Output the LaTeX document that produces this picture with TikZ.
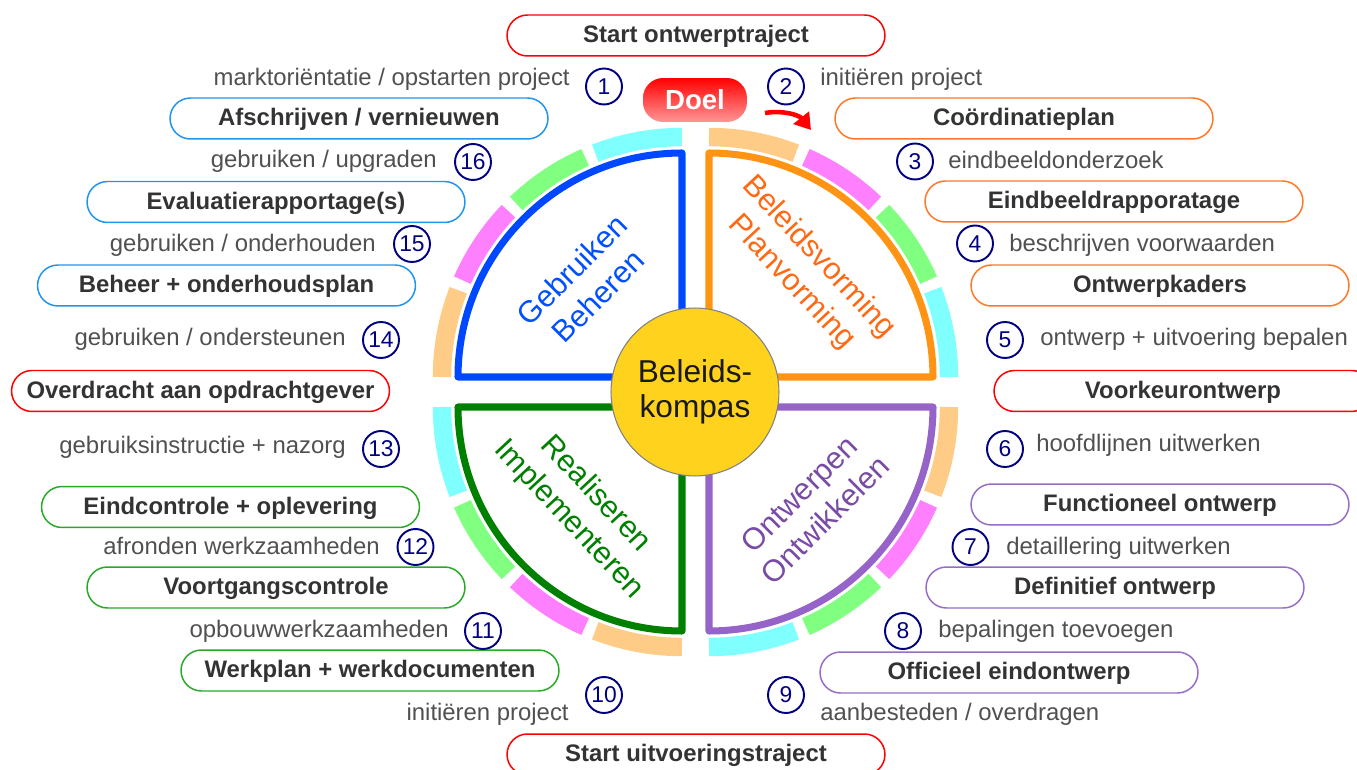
\documentclass[tikz,border=0pt]{standalone}
\usepackage{fontspec}
\setmainfont{Liberation Sans}
\usetikzlibrary{arrows.meta,calc}
\definecolor{labgray}{RGB}{80,80,80}
\definecolor{boxtext}{RGB}{51,51,51}
\definecolor{navy}{RGB}{0,0,128}
\definecolor{bxblue}{RGB}{30,150,240}
\definecolor{bxorange}{RGB}{255,120,40}
\definecolor{bxgreen}{RGB}{40,170,40}
\definecolor{bxpurple}{RGB}{150,110,200}
\definecolor{bxred}{RGB}{255,0,0}
\definecolor{qblue}{RGB}{0,72,255}
\definecolor{qorange}{RGB}{255,148,20}
\definecolor{qgreen}{RGB}{0,128,0}
\definecolor{qpurple}{RGB}{150,100,200}
\definecolor{tblue}{RGB}{0,80,255}
\definecolor{torange}{RGB}{255,105,20}
\definecolor{tgreen}{RGB}{0,128,0}
\definecolor{tpurple}{RGB}{120,75,165}
\definecolor{bandtan}{RGB}{255,204,136}
\definecolor{bandmag}{RGB}{255,128,255}
\definecolor{bandgrn}{RGB}{128,255,128}
\definecolor{bandcyn}{RGB}{128,255,255}
\definecolor{kompas}{RGB}{255,210,30}
\newcommand\labfnt{\fontsize{13.6}{16}\selectfont}
\newcommand\boxfnt{\fontsize{13.6}{16}\selectfont\bfseries}
\newcommand\numfnt{\fontsize{13}{15}\selectfont}
\newcommand\quadfnt{\fontsize{17.4}{21}\selectfont}
\begin{document}
\begin{tikzpicture}[x=0.02cm,y=-0.02cm,
  lab/.style={font=\labfnt, text=labgray, inner sep=0pt},
  labl/.style={lab, anchor=base east},
  labr/.style={lab, anchor=base west},
  num/.style={circle, draw=navy, line width=1.1pt, minimum size=0.72cm, inner sep=0pt, text=navy, font=\numfnt},
  pill/.style={draw=#1, rounded corners=0.41cm, minimum width=7.56cm, minimum height=0.82cm, line width=0.85pt, font=\boxfnt, text=boxtext, fill=white, text height=8.5pt, text depth=0pt, inner sep=0pt},
  quad/.style={line width=4pt, line join=round, fill=white},
  band/.style={line width=10.5pt},
  qtext/.style={font=\quadfnt, align=center, inner sep=0pt}
]
\useasboundingbox (0,0) rectangle (1357,770);

% quadrants
\draw[quad, draw=qblue] (682,377) -- (682,153) arc[start angle=-90, end angle=-180, radius=224] -- cycle;
\draw[quad, draw=qorange] (709,377) -- (709,153) arc[start angle=-90, end angle=0, radius=224] -- cycle;
\draw[quad, draw=qpurple] (709,407) -- (933,407) arc[start angle=0, end angle=90, radius=224] -- cycle;
\draw[quad, draw=qgreen] (682,407) -- (682,631) arc[start angle=90, end angle=180, radius=224] -- cycle;

% coloured bands
\foreach \cx/\cy/\t in {682/377/-180, 709/377/-90, 709/407/0, 682/407/90}{
  \foreach \k/\col in {0/bandtan,1/bandmag,2/bandgrn,3/bandcyn}{
    \pgfmathsetmacro\aa{\t+22.5*\k+(\k>0?1.3:0)}
    \pgfmathsetmacro\bb{\t+22.5*(\k+1)-(\k<3?1.3:0)}
    \draw[band, draw=\col] (\cx,\cy) ++(\aa:240) arc[start angle=\aa, end angle=\bb, radius=240];
  }
}

% quadrant texts
\node[qtext, text=tblue, rotate=45] (tq1) at (585,283) {Gebruiken\\Beheren};
\node[qtext, text=torange, rotate=-47] (tq2) at (805,270) {Beleidsvorming\\Planvorming};
\node[qtext, text=tgreen, rotate=-47] (tq3) at (582,507) {Realiseren\\Implementeren};
\node[qtext, text=tpurple, rotate=45] (tq4) at (812,507) {Ontwerpen\\Ontwikkelen};

% centre
\node[circle, fill=kompas, draw=gray, line width=0.6pt, minimum size=3.36cm, align=center, font=\fontsize{18}{20}\selectfont, text=black!90] (kompas) at (695,392) {Beleids-\\kompas};

% top and bottom
\node[pill=bxred] (start1) at (696,35.5) {Start ontwerptraject};
\node[pill=bxred] (start2) at (696,754.5) {Start uitvoeringstraject};
\node[rounded corners=0.4cm, minimum width=2.08cm, minimum height=0.88cm, top color=red, middle color=red, bottom color={rgb,255:red,255;green,150;blue,150}, text=white, font=\fontsize{15.7}{18}\selectfont\bfseries, inner sep=0pt] (doel) at (695,100) {Doel};
\coordinate (arS) at (765,113);
\coordinate (arE) at (811,130);
\draw[red, line width=2.6pt, -{Triangle[length=9pt,width=11pt]}] (arS) .. controls (783,110) and (799,115) .. (arE);

% right side
\node[pill=bxorange] (b3) at (1024,118.5) {Coördinatieplan};
\node[pill=bxorange] (b4) at (1114,201.5) {Eindbeeldrapporatage};
\node[pill=bxorange] (b5) at (1160,285.5) {Ontwerpkaders};
\node[pill=bxred] (b6) at (1183,391) {Voorkeurontwerp};
\node[pill=bxpurple] (b7) at (1160,504.5) {Functioneel ontwerp};
\node[pill=bxpurple] (b8) at (1115,587.5) {Definitief ontwerp};
\node[pill=bxpurple] (b9) at (1009,672.5) {Officieel eindontwerp};

% left side
\node[pill=bxblue] (b1) at (359,118.5) {Afschrijven / vernieuwen};
\node[pill=bxblue] (b16) at (276,202) {Evaluatierapportage(s)};
\node[pill=bxblue] (b15) at (226.5,285.5) {Beheer + onderhoudsplan};
\node[pill=bxred] (b14) at (200.5,391) {Overdracht aan opdrachtgever};
\node[pill=bxgreen] (b13) at (230.5,507) {Eindcontrole + oplevering};
\node[pill=bxgreen] (b12) at (276,587.5) {Voortgangscontrole};
\node[pill=bxgreen] (b11) at (370,670.5) {Werkplan + werkdocumenten};

% numbers
\node[num] (n1) at (604,86.5) {1};
\node[num] (n2) at (786,86.5) {2};
\node[num] (n3) at (915,161.5) {3};
\node[num] (n4) at (975,243.5) {4};
\node[num] (n5) at (1005,340) {5};
\node[num] (n6) at (1005,449) {6};
\node[num] (n7) at (970.5,547) {7};
\node[num] (n8) at (903,631) {8};
\node[num] (n9) at (786,695) {9};
\node[num] (n10) at (604,695) {10};
\node[num] (n11) at (483,631) {11};
\node[num] (n12) at (415.5,547) {12};
\node[num] (n13) at (381,449) {13};
\node[num] (n14) at (381,340) {14};
\node[num] (n15) at (412,244) {15};
\node[num] (n16) at (473,162) {16};

% labels right
\node[labr] (l2) at (820,86) {initiëren project};
\node[labr] (l3) at (948,169) {eindbeeldonderzoek};
\node[labr] (l4) at (1009,252) {beschrijven voorwaarden};
\node[labr] (l5) at (1040,346) {ontwerp + uitvoering bepalen};
\node[labr] (l6) at (1036,452) {hoofdlijnen uitwerken};
\node[labr] (l7) at (1006,554) {detaillering uitwerken};
\node[labr] (l8) at (938,637) {bepalingen toevoegen};
\node[labr] (l9) at (820,720) {aanbesteden / overdragen};
% labels left
\node[labl] (l1) at (570,86) {marktoriëntatie / opstarten project};
\node[labl] (l16) at (437,168) {gebruiken / upgraden};
\node[labl] (l15) at (376,252) {gebruiken / onderhouden};
\node[labl] (l14) at (346,346) {gebruiken / ondersteunen};
\node[labl] (l13) at (346,454) {gebruiksinstructie + nazorg};
\node[labl] (l12) at (380,554) {afronden werkzaamheden};
\node[labl] (l11) at (449,637) {opbouwwerkzaamheden};
\node[labl] (l10) at (569,720) {initiëren project};
\end{tikzpicture}
\end{document}
